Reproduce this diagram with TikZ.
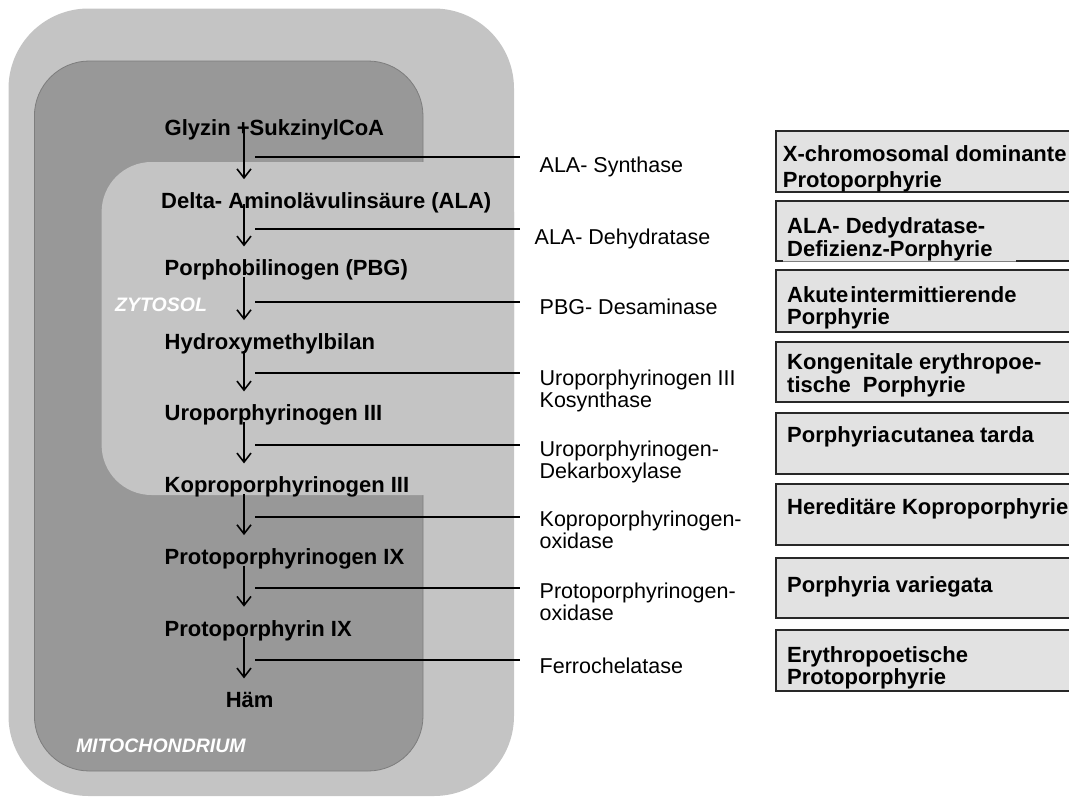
\documentclass[tikz,border=0pt]{standalone}
\usepackage{fontspec}
\setmainfont{Liberation Sans}
\usetikzlibrary{arrows.meta,calc}
\definecolor{outerc}{RGB}{196,196,196}
\definecolor{mitoc}{RGB}{152,152,152}
\definecolor{mitoedge}{RGB}{125,125,125}
\definecolor{boxfill}{RGB}{226,226,226}
\definecolor{boxedge}{RGB}{40,40,40}
\begin{document}
\begin{tikzpicture}[x=1pt,y=-1pt,
  pw/.style={anchor=base west, inner sep=0pt, font=\bfseries\fontsize{22}{23}\selectfont},
  enz/.style={anchor=north west, inner sep=0pt, align=left, font=\fontsize{21.5}{22}\selectfont},
  dis/.style={anchor=north west, inner sep=0pt, align=left, font=\bfseries\fontsize{22}{22.5}\selectfont},
  region/.style={anchor=base west, inner sep=0pt, text=white, font=\bfseries\itshape\fontsize{19.5}{20}\selectfont},
  arr/.style={line width=1.6pt, -{Straight Barb[length=9pt,width=14pt]}},
  conn/.style={line width=2pt},
  dbox/.style={fill=boxfill, draw=boxedge, line width=2pt},
  dedge/.style={draw=boxedge, line width=2pt},
]
\useasboundingbox (0,0) rectangle (1069,798);
\clip (0,0) rectangle (1069,798);

% compartments
\fill[outerc, rounded corners=80pt] (8.5,8.5) rectangle (514,796);
\filldraw[fill=mitoc, draw=mitoedge, line width=0.8pt, rounded corners=55pt] (34.4,61) rectangle (423,771);
\fill[outerc, rounded corners=50pt] (101.6,162) rectangle (514,495);

\node[region] (zyt) at (115,311) {ZYTOSOL};
\node[region] (mit) at (75.8,752.5) {MITOCHONDRIUM};

% pathway
\node[pw] (p1) at (164.5,135.4) {Glyzin +SukzinylCoA};
\node[pw] (p2) at (161,208.7) {Delta- Aminolävulinsäure (ALA)};
\node[pw] (p3) at (164.5,275.9) {Porphobilinogen (PBG)};
\node[pw] (p4) at (164.5,349.6) {Hydroxymethylbilan};
\node[pw] (p5) at (164.5,420.9) {Uroporphyrinogen III};
\node[pw] (p6) at (164.5,492.9) {Koproporphyrinogen III};
\node[pw] (p7) at (164.5,564.6) {Protoporphyrinogen IX};
\node[pw] (p8) at (164.5,636.2) {Protoporphyrin IX};
\node[pw, anchor=base] (p9) at (249.6,707.9) {Häm};

\coordinate (X) at (244,0);
\draw[arr] ($(p1.base -| X)+(0,-7)$) -- ($(p2.base -| X)+(0,-29.5)$);
\draw[arr] ($(p2.base -| X)+(0,-4.5)$) -- ($(p3.base -| X)+(0,-29.5)$);
\draw[arr] ($(p3.base -| X)+(0,1)$) -- ($(p4.base -| X)+(0,-29.5)$);
\draw[arr] ($(p4.base -| X)+(0,1)$) -- ($(p5.base -| X)+(0,-29.5)$);
\draw[arr] ($(p5.base -| X)+(0,1)$) -- ($(p6.base -| X)+(0,-29.5)$);
\draw[arr] ($(p6.base -| X)+(0,1)$) -- ($(p7.base -| X)+(0,-29.5)$);
\draw[arr] ($(p7.base -| X)+(0,1)$) -- ($(p8.base -| X)+(0,-29.5)$);
\draw[arr] ($(p8.base -| X)+(0,1)$) -- ($(p9.base -| X)+(0,-29.5)$);

% enzymes
\node[enz] (e1) at (539.5,156.8) {ALA- Synthase};
\node[enz] (e2) at (534.5,228.3) {ALA- Dehydratase};
\node[enz] (e3) at (539.5,298.3) {PBG- Desaminase};
\node[enz] (e4) at (539.5,369.8) {Uroporphyrinogen III\\Kosynthase};
\node[enz] (e5) at (539.5,440.8) {Uroporphyrinogen-\\Dekarboxylase};
\node[enz] (e6) at (539.5,510.8) {Koproporphyrinogen-\\oxidase};
\node[enz] (e7) at (539.5,582.3) {Protoporphyrinogen-\\oxidase};
\node[enz] (e8) at (539.5,657.3) {Ferrochelatase};

\foreach \i/\y in {1/157,2/229,3/302,4/373,5/445,6/517,7/588,8/660}{
  \coordinate (a\i) at (255,\y);
  \coordinate (b\i) at (520,\y);
  \draw[conn] (a\i) -- (b\i);
}

% disease boxes
\draw[dbox] (776,131) rectangle (1090,191.5);
\fill[boxfill] (776,201) rectangle (1090,261);
\draw[dedge] (783,261) -- (776,261) -- (776,201) -- (1090,201);
\draw[dedge] (1016,261) -- (1090,261);
\draw[draw=gray, line width=0.8pt] (783,261) -- (1016,261);
\draw[dbox] (776,269.5) rectangle (1090,332);
\draw[dbox] (776,342) rectangle (1090,402);
\draw[dbox] (776,413) rectangle (1090,474);
\draw[dbox] (776,484) rectangle (1090,545);
\draw[dbox] (776,558) rectangle (1090,618);
\draw[dbox] (776,630) rectangle (1090,691);

\node[dis] (d1) at (782.7,145.6) {X-chromosomal dominante\\[3pt]Protoporphyrie};
\node[dis] (d2) at (787,217.6) {ALA- Dedydratase-\\Defizienz-Porphyrie};
\node[dis] (d3) at (787,286.1) {Akute\kern2pt intermittierende\\Porphyrie};
\node[dis] (d4) at (787,353.6) {Kongenitale erythropoe-\\tische\ \ Porphyrie};
\node[dis] (d5) at (787,426.1) {Porphyria\kern1pt cutanea tarda};
\node[dis] (d6) at (787,498.6) {Hereditäre Koproporphyrie};
\node[dis] (d7) at (787,576.1) {Porphyria variegata};
\node[dis] (d8) at (787,646.1) {Erythropoetische\\Protoporphyrie};
\end{tikzpicture}
\end{document}
